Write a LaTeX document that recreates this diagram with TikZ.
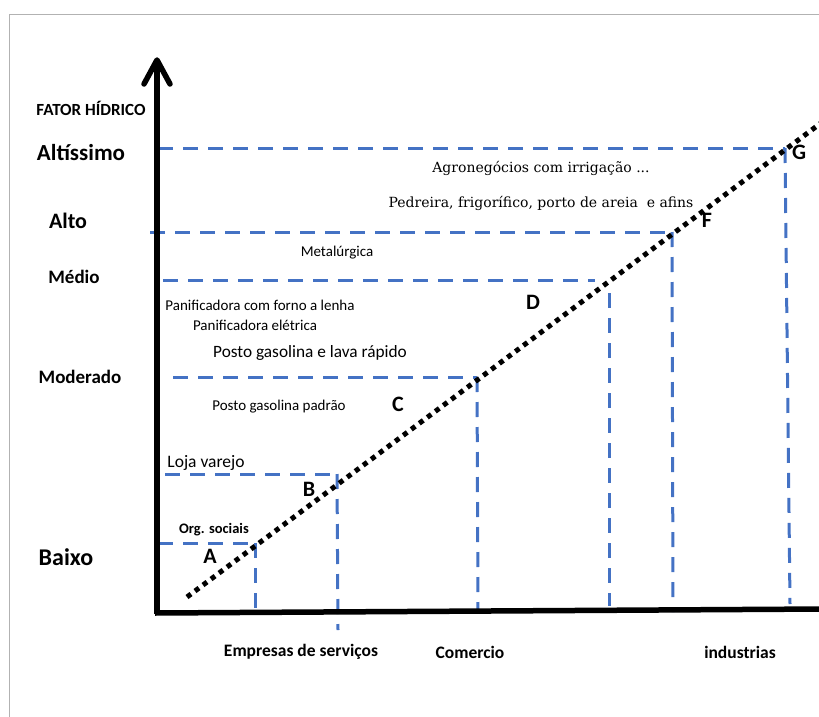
\documentclass[tikz,border=0pt]{standalone}
\usepackage{fontspec}
\setmainfont{Carlito}
\newfontfamily\serifa{DejaVu Serif}
\definecolor{dblue}{HTML}{4472C4}
\begin{document}
\begin{tikzpicture}[x=1pt,y=-1pt,
  bl/.style={font=\bfseries\fontsize{#1pt}{#1pt}\selectfont, inner sep=0pt},
  rg/.style={font=\fontsize{#1pt}{#1pt}\selectfont, inner sep=0pt},
  sf/.style={font=\serifa\fontsize{#1pt}{#1pt}\selectfont, inner sep=0pt},
  guide/.style={dblue, line width=3pt, dash pattern=on 15pt off 10pt},
  axis/.style={black, line width=5.5pt},
  trend/.style={black, line width=5pt, dash pattern=on 5pt off 5pt}]
\useasboundingbox (0,0) rectangle (819,717);
\clip (0,0) rectangle (819,717);
\draw[gray!60, line width=1pt] (9,15) rectangle (840,740);

% guides
\coordinate (pA) at (255,543);
\coordinate (pB) at (337,474);
\coordinate (pC) at (477,377);
\coordinate (pD) at (609,280);
\coordinate (pF) at (672,232);
\coordinate (pG) at (785,148);
\draw[guide] (158,543) -- (pA);
\draw[guide] (pA) -- (255,610);
\draw[guide] (165,474) -- (pB);
\draw[guide] (pB) -- (338,630);
\draw[guide] (173,377) -- (pC);
\draw[guide] (pC) -- (478,611);
\draw[guide] (163,280) -- (595,280);
\draw[guide] (609,293) -- (609,606);
\draw[guide] (150,232) -- (pF);
\draw[guide] (pF) -- (673,612);
\draw[guide] (158,148) -- (pG);
\draw[guide] (pG) -- (790,604);

% axes
\draw[axis] (157,614) -- (157,62);
\draw[axis, line cap=round, line join=round] (144,84) -- (157,60) -- (170,84);
\draw[axis] (155,613) -- (825,609);

% trend
\coordinate (t0) at (187,597);
\coordinate (t1) at (825,120);
\draw[trend] (t0) -- (t1);

% level labels
\node[bl=17] (fh) at (91,108) {FATOR HÍDRICO};
\node[bl=23] (alt) at (81,153) {Altíssimo};
\node[bl=22] (alto) at (68,221) {Alto};
\node[bl=19] (med) at (74,277) {Médio};
\node[bl=19] (mod) at (80,377) {Moderado};
\node[bl=24] (bai) at (66,557) {Baixo};

% category texts
\node[sf=14] (agr) at (541,168) {Agronegócios com irrigação ...};
\node[sf=14] (ped) at (541,203) {Pedreira, frigorífico, porto de areia \ e afins};
\node[rg=15] (met) at (337,253) {Metalúrgica};
\node[rg=15] (pan1) at (260,305) {Panificadora com forno a lenha};
\node[rg=15] (pan2) at (255,325) {Panificadora elétrica};
\node[rg=17.3] (pos1) at (310,353) {Posto gasolina e lava rápido};
\node[rg=15] (pos2) at (279,407) {Posto gasolina padrão};
\node[rg=17.5] (loja) at (206,463) {Loja varejo};
\node[bl=14.5] (org) at (214,530) {Org. sociais};

% letters
\node[bl=22] (lA) at (210,556) {A};
\node[bl=22] (lB) at (309,489) {B};
\node[bl=22] (lC) at (398,404) {C};
\node[bl=22] (lD) at (533,302) {D};
\node[bl=22] (lF) at (707,220) {F};
\node[bl=22] (lG) at (799,152) {G};

% x categories
\node[bl=17.5] (emp) at (301,652) {Empresas de serviços};
\node[bl=17.5] (com) at (470,652) {Comercio};
\node[bl=17.5] (ind) at (740,652) {industrias};
\end{tikzpicture}
\end{document}
